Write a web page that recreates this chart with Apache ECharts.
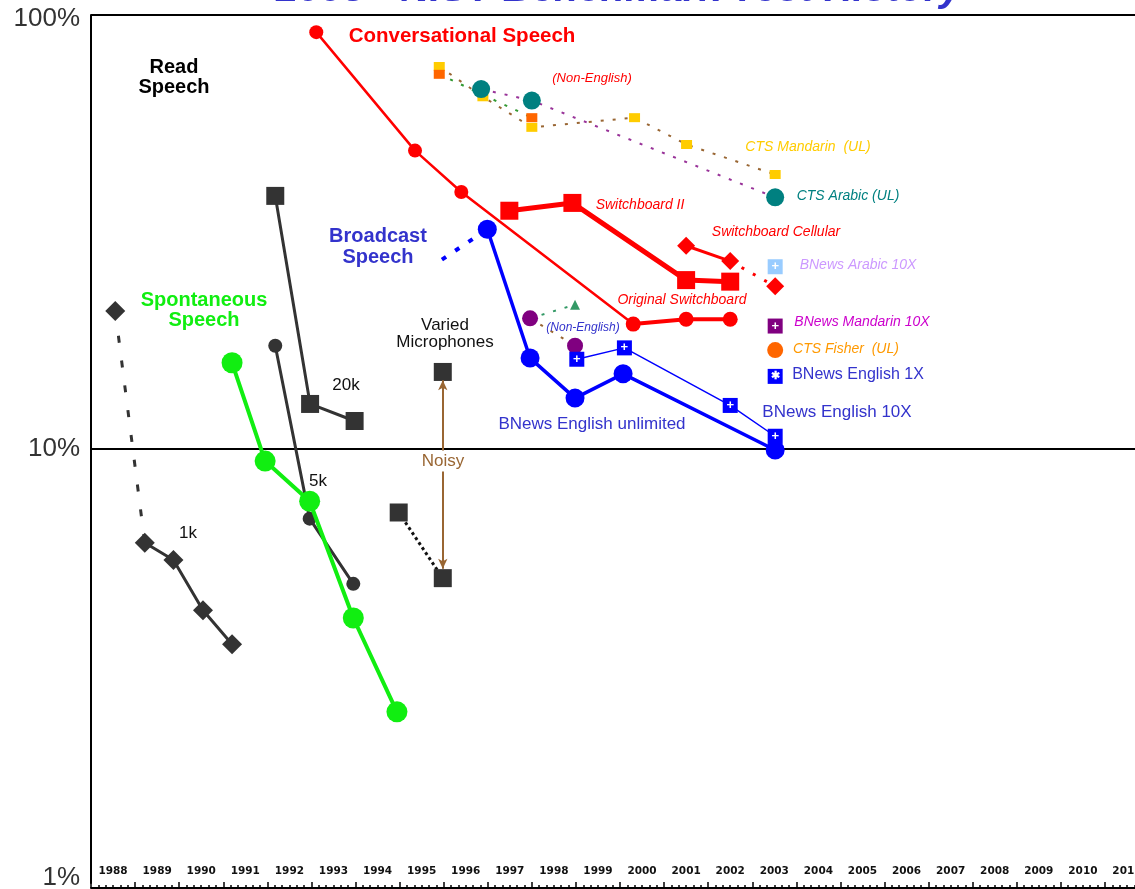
<!DOCTYPE html>
<html>
<head>
<meta charset="utf-8">
<script src="https://cdn.jsdelivr.net/npm/echarts@6/dist/echarts.min.js"></script>
<style>
  html, body { margin: 0; padding: 0; background: #fff; overflow: hidden; }
  #chart { width: 1135px; height: 889px; }
</style>
</head>
<body>
<div id="chart"></div>
<script>
// x: position on the year axis (1988.0 = left edge of the 1988 slot), y: word error rate in %
const years = ['1988', '1989', '1990', '1991', '1992', '1993', '1994', '1995', '1996', '1997', '1998', '1999',
  '2000', '2001', '2002', '2003', '2004', '2005', '2006', '2007', '2008', '2009', '2010', '2011']
const yTicks = [1, 10, 100]

// read speech
const read1kLead = [[1988.55, 20.8], [1989.22, 6.08]]
const read1k = [[1989.22, 6.08], [1989.87, 5.55], [1990.54, 4.25], [1991.2, 3.55]]
const read5k = [[1992.18, 17.3], [1992.96, 6.91], [1993.95, 4.89]]
const read20k = [[1992.18, 38.3], [1992.97, 12.7], [1993.98, 11.6]]
const noisyLead = [[1994.98, 7.14], [1995.98, 5.04]]
const variedMics = [[1994.98, 7.14], [1995.98, 15.05], [1995.98, 5.04]]
const noisyArrow = [[1995.98, 14.4], [1995.98, 5.3]]

// spontaneous speech
const spontaneous = [[1991.2, 15.8], [1991.95, 9.38], [1992.96, 7.58], [1993.95, 4.08], [1994.94, 2.48]]

// conversational speech
const conversational = [[1993.11, 91.3], [1995.35, 48.7], [1996.4, 39.1], [2000.3, 19.4]]
const originalSwb = [[2000.3, 19.4], [2001.5, 19.9], [2002.5, 19.9]]
const swb2 = [[1997.49, 35.4], [1998.92, 36.9], [2001.5, 24.5], [2002.5, 24.3]]
const swbCell = [[2001.5, 29.4], [2002.5, 27.1]]
const swbCellLead = [[2002.5, 27.1], [2003.52, 23.7]]
const swbCell2003 = [[2003.52, 23.7]]
const ctsMandarin = [[1995.9, 76.1], [1996.89, 64.8], [1998.0, 55.1], [2000.33, 58.0], [2001.51, 50.3], [2003.52, 42.9]]
const ctsOther = [[1995.9, 73.0], [1998.0, 58.0]]
const ctsArabic = [[1996.85, 67.5], [1998.0, 63.5], [2003.52, 38.0]]
const ctsFisher = [[2003.52, 16.9]]

// broadcast speech
const bnLead = [[1995.96, 27.3], [1996.99, 32.1]]
const bnUnlimited = [[1996.99, 32.1], [1997.96, 16.2], [1998.98, 13.1], [2000.07, 14.9], [2003.52, 9.95]]
const bn10x = [[1999.02, 16.1], [2000.1, 17.1], [2002.5, 12.6], [2003.52, 10.7]]
const bnNonEnglish = [[1997.96, 20.0], [1998.98, 17.3]]
const bnNonEnglishTri = [[1997.96, 20.0], [1998.98, 21.5]]
const bnArabic10x = [[2003.52, 26.3]]
const bnMandarin10x = [[2003.52, 19.2]]
const bnEnglish1x = [[2003.52, 14.7]]

const FONT = '"Liberation Sans", Arial, sans-serif'

function line(data, o) {
  return Object.assign({
    type: 'line',
    data: data,
    xAxisIndex: 0,
    yAxisIndex: 0,
    symbol: o.symbol || 'none',
    symbolSize: o.size || 0,
    showSymbol: !!o.symbol,
    itemStyle: { color: o.color },
    lineStyle: { color: o.lineColor || o.color, width: o.width || 0, type: o.type || 'solid', opacity: o.width ? 1 : 0 },
    z: o.z || 2,
    animation: false,
    silent: true,
  }, o.extra || {})
}

function mark(text, size) {
  return {
    label: {
      show: true, position: 'inside', formatter: text, color: '#fff',
      fontSize: size || 13, fontWeight: 'bold', fontFamily: FONT,
    },
  }
}

function note(x, y, text, color, size, extra) {
  return {
    type: 'text', x: x, y: y, z: 50, silent: true,
    style: Object.assign({
      text: text, fill: color, fontSize: size, fontFamily: FONT,
      align: 'center', verticalAlign: 'middle',
    }, extra || {}),
  }
}

const dark = '#333333'
const green = '#11ee11'
const red = '#ff0000'
const blue = '#0000ff'
const labelBlue = '#3333cc'

const series = [
  // read speech
  line(read1kLead, { color: dark, width: 3, type: [7, 18] }),
  line(read1k, { color: dark, width: 3, symbol: 'diamond', size: 20 }),
  line(read1kLead.slice(0, 1), { color: dark, symbol: 'diamond', size: 20 }),
  line(read5k, { color: dark, width: 3, symbol: 'circle', size: 14 }),
  line(read20k, { color: dark, width: 3, symbol: 'rect', size: 18 }),
  line(noisyLead, { color: '#111', width: 3, type: [3, 3] }),
  line(variedMics, { color: dark, symbol: 'rect', size: 18, z: 4 }),
  line(noisyArrow, {
    color: '#996633', z: 3,
    extra: {
      markLine: {
        silent: true, animation: false, symbol: ['arrow', 'arrow'], symbolSize: [7, 10],
        lineStyle: { color: '#996633', width: 2, type: 'solid' }, label: { show: false },
        data: [[{ coord: noisyArrow[0] }, { coord: noisyArrow[1] }]],
      },
    },
  }),
  // spontaneous
  line(spontaneous, { color: green, width: 4, symbol: 'circle', size: 21, z: 3 }),
  // conversational
  line(ctsMandarin, { color: '#ffcc00', lineColor: '#996633', width: 2, type: [3, 9], symbol: 'rect', size: [11, 9] }),
  line(ctsOther, { color: '#ff6600', lineColor: '#339933', width: 2, type: [3, 9], symbol: 'rect', size: [11, 9] }),
  line(ctsArabic, { color: '#008080', lineColor: '#993399', width: 2, type: [3, 9], symbol: 'circle', size: 18, z: 3 }),
  line(conversational, { color: red, width: 2.5, symbol: 'circle', size: 14 }),
  line(originalSwb, { color: red, width: 4, symbol: 'circle', size: 15 }),
  line(swb2, { color: red, width: 5, symbol: 'rect', size: 18 }),
  line(swbCell, { color: red, width: 3, symbol: 'diamond', size: 18 }),
  line(swbCellLead, { color: red, width: 3, type: [3, 10] }),
  line(swbCell2003, { color: red, symbol: 'diamond', size: 18 }),
  line(ctsFisher, { color: '#ff6600', symbol: 'circle', size: 16 }),
  // broadcast
  line(bnLead, { color: blue, width: 4, type: [5, 11] }),
  line(bnUnlimited, { color: blue, width: 3.5, symbol: 'circle', size: 19, z: 3 }),
  line(bn10x, { color: blue, width: 1.5, symbol: 'rect', size: 15, z: 4, extra: mark('+') }),
  line(bnNonEnglishTri, { color: '#339966', width: 2, type: [3, 9] }),
  line(bnNonEnglishTri.slice(1), { color: '#339966', symbol: 'triangle', size: 10 }),
  line(bnNonEnglish, { color: '#800080', lineColor: '#996633', width: 2, type: [3, 9], symbol: 'circle', size: 16 }),
  line(bnArabic10x, { color: '#99ccff', symbol: 'rect', size: 15, extra: mark('+') }),
  line(bnMandarin10x, { color: '#800080', symbol: 'rect', size: 15, extra: mark('+') }),
  line(bnEnglish1x, { color: blue, symbol: 'rect', size: 15, extra: mark('✱', 11) }),
]

const italic = { fontStyle: 'italic' }
const bold = { fontWeight: 'bold' }

const graphic = [
  note(619, -10, '2003 - NIST Benchmark Test History', labelBlue, 40, { fontWeight: 'bold', fontStyle: 'italic' }),
  note(174, 77, 'Read\nSpeech', '#000', 20, Object.assign({ lineHeight: 20 }, bold)),
  note(462, 36, 'Conversational Speech', red, 20.5, bold),
  note(378, 247, 'Broadcast\nSpeech', labelBlue, 20, Object.assign({ lineHeight: 21 }, bold)),
  note(204, 310, 'Spontaneous\nSpeech', green, 20, Object.assign({ lineHeight: 20 }, bold)),
  note(445, 334, 'Varied\nMicrophones', '#111', 17, { lineHeight: 17 }),
  note(443, 461, 'Noisy', '#996633', 17, { backgroundColor: '#fff', padding: [2, 1] }),
  note(346, 385, '20k', '#111', 17),
  note(318, 481, '5k', '#111', 17),
  note(188, 533, '1k', '#111', 17),
  note(592, 78, '(Non-English)', red, 13, italic),
  note(640, 205, 'Switchboard II', red, 14, italic),
  note(776, 232, 'Switchboard Cellular', red, 14, italic),
  note(682, 300, 'Original Switchboard', red, 14, italic),
  note(808, 147, 'CTS Mandarin  (UL)', '#ffcc00', 14, italic),
  note(848, 196, 'CTS Arabic (UL)', '#008080', 14, italic),
  note(858, 265, 'BNews Arabic 10X', '#cc99ff', 14, italic),
  note(862, 322, 'BNews Mandarin 10X', '#cc00cc', 14, italic),
  note(846, 349, 'CTS Fisher  (UL)', '#ff9900', 14, italic),
  note(858, 375, 'BNews English 1X', labelBlue, 16),
  note(837, 412, 'BNews English 10X', labelBlue, 17),
  note(592, 424, 'BNews English unlimited', labelBlue, 17),
  note(583, 328, '(Non-English)', labelBlue, 12, italic),
]

const chart = echarts.init(document.getElementById('chart'), null, { renderer: 'canvas' })
chart.setOption({
  animation: false,
  backgroundColor: '#fff',
  grid: { left: 91, top: 15, width: 1058, height: 868, outerBoundsMode: 'none', containLabel: false },
  xAxis: [
    {
      type: 'value', min: 1988, max: 2012, interval: 1, position: 'bottom', offset: 5,
      axisLine: { onZero: false, lineStyle: { color: '#000', width: 2 } },
      axisTick: { show: true, inside: true, length: 6, lineStyle: { color: '#000', width: 1.5 } },
      minorTick: { show: true, splitNumber: 6, length: 3, lineStyle: { color: '#000', width: 1.5 } },
      axisLabel: { show: false },
      splitLine: { show: false },
    },
    {
      type: 'category', data: years, boundaryGap: true, position: 'bottom', offset: 5,
      axisLine: { show: false },
      axisTick: { show: false },
      axisLabel: {
        inside: true, margin: 11, interval: 0, color: '#111',
        fontSize: 10.5, fontWeight: 'bold', fontFamily: '"DejaVu Sans", sans-serif',
      },
      splitLine: { show: false },
    },
  ],
  yAxis: {
    type: 'log', logBase: 10, min: yTicks[0], max: yTicks[yTicks.length - 1],
    axisLine: { show: true, lineStyle: { color: '#000', width: 2 } },
    axisTick: { show: false },
    axisLabel: {
      formatter: (v) => (v === 100 ? '{top|' + v + '%}' : v === 1 ? '{bot|' + v + '%}' : v + '%'),
      color: '#333', fontSize: 26, fontFamily: FONT, margin: 11,
      rich: {
        top: { fontSize: 26, fontFamily: FONT, color: '#333', padding: [8, 0, 0, 0] },
        bot: { fontSize: 26, fontFamily: FONT, color: '#333', padding: [0, 0, 10, 0] },
      },
    },
    splitLine: { show: true, showMinLine: false, lineStyle: { color: '#000', width: 2 } },
  },
  series: series,
  graphic: graphic,
})
</script>
</body>
</html>
